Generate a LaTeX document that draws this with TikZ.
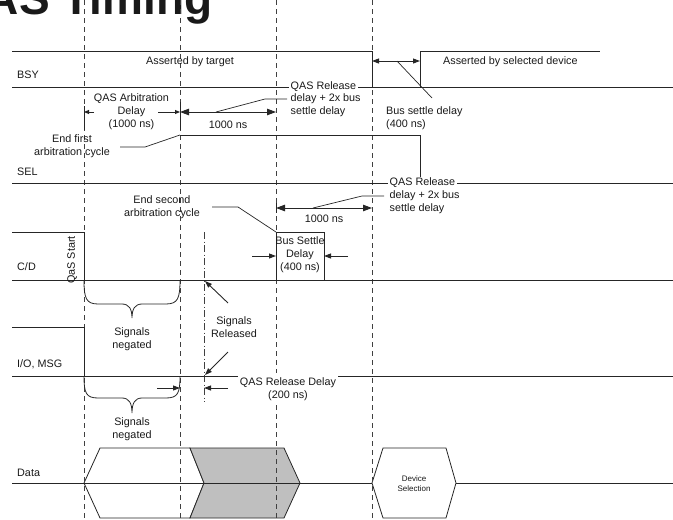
\documentclass[tikz,border=0pt]{standalone}
\usepackage{fontspec}
\setmainfont{Liberation Sans}
\usetikzlibrary{arrows.meta}
\begin{document}
\begin{tikzpicture}[x=1pt,y=-1pt,
  sig/.style={line width=0.9pt, black!85},
  lead/.style={line width=0.7pt, black!85},
  dashv/.style={line width=0.8pt, black!75, dash pattern=on 5pt off 4pt},
  dashdotv/.style={line width=0.8pt, black!75, dash pattern=on 7pt off 2.5pt on 1pt off 2.5pt},
  lbl/.style={font=\fontsize{10.8}{13}\selectfont, align=center, inner sep=0pt, text=black!90},
  lbll/.style={lbl, align=left, anchor=west},
  bigdbl/.style={sig, {Triangle[length=9pt,width=6.5pt]}-{Triangle[length=9pt,width=6.5pt]}},
  meddbl/.style={sig, {Triangle[length=7pt,width=5pt]}-{Triangle[length=7pt,width=5pt]}},
  medarr/.style={sig, -{Triangle[length=7pt,width=5pt]}},
  smallarr/.style={sig, -{Triangle[length=5pt,width=4pt]}},
  brace/.style={line width=0.8pt, black!85},
  hexw/.style={line width=0.8pt, black!85, fill=white},
  hexg/.style={line width=0.8pt, black!85, fill=black!25}
]
\useasboundingbox (0,0) rectangle (673,520);
\clip (0,0) rectangle (673,520);

% title (cut off at top)
\node[anchor=base west, inner sep=0pt, font=\fontsize{46}{50}\selectfont\bfseries, text=black!90] (title) at (-50,14) {QAS Timing};

% data bus shapes
\draw[hexw] (84,483) -- (100,448) -- (190,448) -- (204,483) -- (190,518) -- (100,518) -- cycle;
\draw[hexg] (190,448) -- (284,448) -- (300,483) -- (284,518) -- (190,518) -- (204,483) -- cycle;
\draw[hexw] (372,483) -- (383,448) -- (446,448) -- (456,483) -- (446,518) -- (383,518) -- cycle;

% dashed time markers
\foreach \x/\n in {84/a,180/b,276/c,372/d} \draw[dashv] (\x,0) -- (\x,520);
\draw[dashdotv] (204,232) -- (204,402);

% BSY
\draw[sig] (12,51) -- (372,51) -- (372,87);
\draw[sig] (12,87) -- (673,87);
\draw[sig] (420,87) -- (420,51) -- (600,51);
\node[lbll] (bsy) at (17,75) {BSY};
\node[lbl] (abt) at (190,62) {Asserted by target};
\node[lbll] (absd) at (443,62) {Asserted by selected device};
\draw[meddbl] (372,61) -- (420,61);
\coordinate (bsl) at (397,61);
\node[lbll] (bsd) at (386,118) {Bus settle delay\\(400 ns)};
\draw[lead] (bsl) -- (432,98);

% arbitration delay
\draw[sig] (84,106) -- (84,130);
\draw[sig] (180,102) -- (180,130);
\draw[smallarr] (94,112) -- (84,112);
\draw[smallarr] (158,112) -- (180,112);
\node[lbl] (arb) at (131.5,112) {QAS Arbitration\\Delay\\(1000 ns)};
\draw[bigdbl] (180,112) -- (276,112);
\node[lbl] (t1) at (228,125) {1000 ns};
\node[lbll, fill=white, inner sep=1.5pt] (relA) at (289,87) {QAS Release};
\node[lbll] (relA2) at (290.5,105.3) {delay + 2x bus\\settle delay};
\coordinate (la) at (216,112);
\draw[lead] (la) -- (265,99) -- (287,99);

% SEL
\draw[sig] (12,183) -- (673,183);
\draw[sig] (180,135) -- (420,135) -- (420,183);
\node[lbll] (sel) at (17,172) {SEL};
\node[lbl] (efa) at (72,146.5) {End first\\arbitration cycle};
\draw[lead] (efa.east |- 0,147) ++(10,0) coordinate (efl) (efl) -- (145,147) -- (180,135);
\draw[bigdbl] (276,208) -- (372,208);
\draw[sig] (276,203) -- (276,213);
\node[lbl] (t2) at (324,219) {1000 ns};
\node[lbll, fill=white, inner sep=1.5pt] (relB) at (388,183) {QAS Release};
\node[lbll] (relB2) at (389.5,202.3) {delay + 2x bus\\settle delay};
\draw[lead] (313,208) -- (362,196) -- (384,196);
\node[lbl] (esa) at (162,207.5) {End second\\arbitration cycle};
\draw[lead] (212,207) -- (238,207) -- (276,232);

% C/D
\draw[sig] (12,232) -- (84,232) -- (84,280);
\draw[sig] (12,280) -- (673,280);
\draw[sig] (276,280) -- (276,232) -- (324,232) -- (324,280);
\node[lbll] (cd) at (17,267) {C/D};
\node[lbl, rotate=90] (qas) at (72,260) {QaS Start};
\node[lbl] (bsd2) at (300,255) {Bus Settle\\Delay\\(400 ns)};
\draw[medarr] (252,256) -- (276,256);
\draw[medarr] (348,256) -- (324,256);

% braces & signals negated
\draw[brace] (84,280) .. controls (84,298) and (86,304) .. (98,304) -- (122,304)
  .. controls (129,304) and (132,309) .. (132,318)
  .. controls (132,309) and (135,304) .. (142,304) -- (166,304)
  .. controls (178,304) and (180,298) .. (180,280);
\node[lbl] (sn1) at (132,339.5) {Signals\\negated};
\draw[brace] (84,376) .. controls (84,393) and (86,398) .. (98,398) -- (122,398)
  .. controls (129,398) and (132,403) .. (132,413)
  .. controls (132,403) and (135,398) .. (142,398) -- (166,398)
  .. controls (178,398) and (180,393) .. (180,376);
\node[lbl] (sn2) at (132,429.5) {Signals\\negated};

% I/O, MSG
\draw[sig] (12,327) -- (84,327) -- (84,376);
\draw[sig] (12,376) -- (673,376);
\node[lbll] (io) at (17,364) {I/O, MSG};
\node[lbl] (srel) at (234,327) {Signals\\Released};
\draw[medarr] (228,303) -- (205,281);
\draw[medarr] (228,352) -- (205,375);
\draw[medarr] (157,388) -- (180,388);
\draw[medarr] (228,388) -- (204,388);
\node[lbl, fill=white, inner xsep=2pt, inner ysep=4.5pt] (qrd) at (288,389) {QAS Release Delay\\(200 ns)};

% Data
\draw[sig] (12,483) -- (372,483);
\draw[sig] (456,483) -- (673,483);
\node[lbll] (data) at (17,473) {Data};
\node[lbl, font=\fontsize{8}{10}\selectfont] (dev) at (414,484) {Device\\Selection};
\end{tikzpicture}
\end{document}
